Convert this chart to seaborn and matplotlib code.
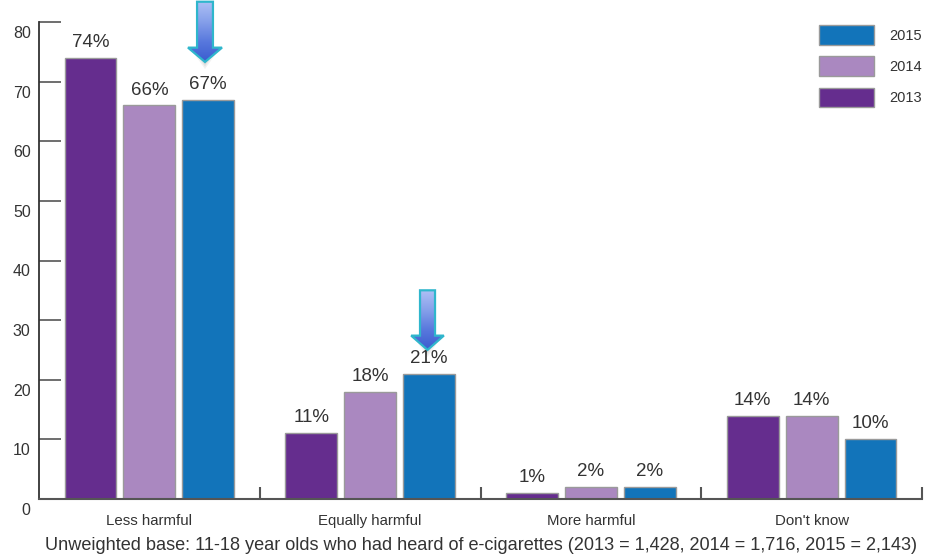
import numpy as np
import pandas as pd
import matplotlib
matplotlib.use("Agg")
import matplotlib.pyplot as plt
from matplotlib.path import Path
from matplotlib.patches import PathPatch
from matplotlib.transforms import ScaledTranslation
from matplotlib.colors import LinearSegmentedColormap
import seaborn as sns

# Perceived harm of e-cigarettes vs. cigarettes, by survey year (%)
categories = ["Less harmful", "Equally harmful", "More harmful", "Don't know"]
years = ["2013", "2014", "2015"]
pct_2013 = [74, 11, 1, 14]
pct_2014 = [66, 18, 2, 14]
pct_2015 = [67, 21, 2, 10]
y_ticks = [0, 10, 20, 30, 40, 50, 60, 70, 80]
footer = ("Unweighted base: 11-18 year olds who had heard of e-cigarettes "
          "(2013 = 1,428, 2014 = 1,716, 2015 = 2,143)")

colors = {"2013": "#652d8e", "2014": "#aa88c0", "2015": "#1274ba"}

df = pd.DataFrame({
    "category": categories * 3,
    "year": [y for y in years for _ in categories],
    "pct": pct_2013 + pct_2014 + pct_2015,
})

sns.set_theme(style="white")
plt.rcParams["font.family"] = ["Liberation Sans", "DejaVu Sans"]
text_col = "#333333"

fig = plt.figure(figsize=(9.34, 5.54), dpi=100)
W, H = 934, 554
ax = fig.add_axes([39 / W, (H - 499) / H, (922 - 39) / W, (499 - 22) / H])

sns.barplot(data=df, x="category", y="pct", hue="year", order=categories,
            hue_order=years, palette=colors, saturation=1, width=0.8, gap=0.12,
            edgecolor="#9a9a9a", linewidth=1.0, ax=ax, legend=True)

ax.set_xlim(-0.5, 3.5)
ax.set_ylim(0, 80)
ax.set_xlabel("")
ax.set_ylabel("")

# value labels above bars
for cont in ax.containers:
    ax.bar_label(cont, fmt="%g%%", padding=5, fontsize=13.5, color=text_col)

# y axis: inward ticks, labels nudged downward
ax.set_yticks(y_ticks)
ax.tick_params(axis="y", direction="in", length=15.5, width=1.2,
               color="#555555", pad=6, labelsize=11.5, labelcolor=text_col,
               left=True)
offset = ScaledTranslation(0, -10 / 100, fig.dpi_scale_trans)
for lab in ax.get_yticklabels():
    lab.set_transform(lab.get_transform() + offset)

# x axis: category labels at centers, separators as minor ticks
ax.set_xticks(range(len(categories)))
ax.set_xticklabels(categories)
ax.set_xticks([0.5, 1.5, 2.5, 3.5], minor=True)
ax.tick_params(axis="x", which="major", length=0, pad=10.5, labelsize=10.8,
               labelcolor=text_col, bottom=True)
ax.tick_params(axis="x", which="minor", direction="in", length=8.6,
               width=1.5, color="#555555", bottom=True)

for side in ["top", "right"]:
    ax.spines[side].set_visible(False)
ax.spines["left"].set_color("#333333")
ax.spines["left"].set_linewidth(1.3)
ax.spines["bottom"].set_color("#555555")
ax.spines["bottom"].set_linewidth(1.5)

# legend, newest year first
handles, labels = ax.get_legend_handles_labels()
ax.legend(handles[::-1], labels[::-1], loc="upper left",
          bbox_to_anchor=((819 - 39) / (922 - 39), 1 - (25 - 22) / 477),
          frameon=False, fontsize=10.5, handlelength=3.8, handleheight=1.7,
          labelspacing=0.8, handletextpad=1.05, borderpad=0, borderaxespad=0,
          labelcolor=text_col)


def gradient_arrow(ax, x, y_tip, y_top, head_len, shaft_hw, head_hw):
    verts = [
        (x - shaft_hw, y_top), (x + shaft_hw, y_top),
        (x + shaft_hw, y_tip + head_len), (x + head_hw, y_tip + head_len),
        (x, y_tip), (x - head_hw, y_tip + head_len),
        (x - shaft_hw, y_tip + head_len), (x - shaft_hw, y_top),
    ]
    codes = [Path.MOVETO] + [Path.LINETO] * 6 + [Path.CLOSEPOLY]
    path = Path(verts, codes)
    # soft shadow under the head
    for k, a in enumerate([0.05, 0.05, 0.06]):
        ax.add_patch(PathPatch(
            Path([(x - head_hw * (0.9 - 0.15 * k), y_tip + head_len),
                  (x + head_hw * (0.9 - 0.15 * k), y_tip + head_len),
                  (x, y_tip - 1.2 + 0.35 * k),
                  (x - head_hw * (0.9 - 0.15 * k), y_tip + head_len)]),
            facecolor="#000000", edgecolor="none", alpha=a, zorder=4,
            clip_on=False))
    outline = PathPatch(path, facecolor="none", edgecolor="#2fb6cc",
                        linewidth=1.6, clip_on=False, zorder=6)
    ax.add_patch(outline)
    clipper = PathPatch(path, facecolor="none", edgecolor="none",
                        transform=ax.transData)
    cmap = LinearSegmentedColormap.from_list(
        "arr", ["#aec0f5", "#86a0ea", "#5878dd", "#3a5ccf"])
    grad = np.linspace(0, 1, 256).reshape(-1, 1)
    im = ax.imshow(grad, cmap=cmap, aspect="auto", origin="upper",
                   extent=(x - head_hw, x + head_hw, y_tip, y_top),
                   zorder=5, interpolation="bilinear")
    im.set_clip_on(True)
    im.set_clip_path(clipper)
    im.set_clip_box(fig.bbox)


# highlight arrows over the 2015 bars of the first two categories
gradient_arrow(ax, 0.252, 73.3, 83.4, 2.4, 0.036, 0.077)
gradient_arrow(ax, 1.26, 25.0, 35.0, 2.4, 0.034, 0.074)
ax.set_xlim(-0.5, 3.5)
ax.set_ylim(0, 80)
ax.set_aspect("auto")

fig.text(481 / W, 1 - 545 / H, footer, ha="center", va="center",
         fontsize=13.1, color=text_col)

fig.savefig("out.png", dpi=100, facecolor="white")
